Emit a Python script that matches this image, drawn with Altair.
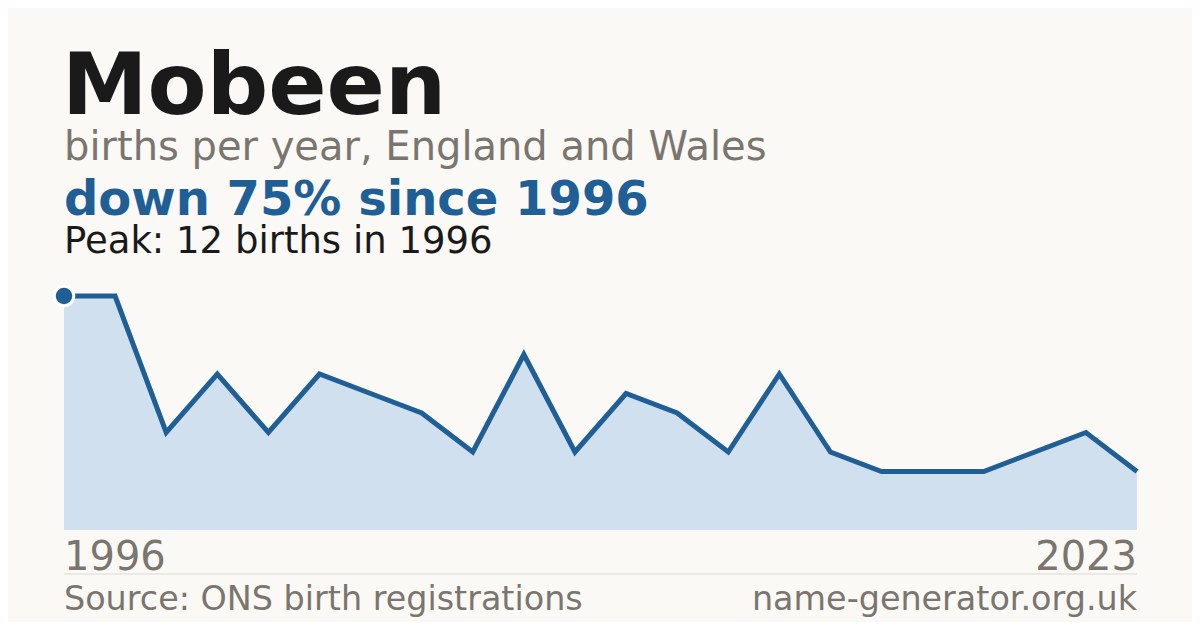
import altair as alt
import pandas as pd

years = ["1996", "1997", "1998", "1999", "2000", "2001", "2002", "2003", "2005", "2006", "2007",
         "2008", "2010", "2011", "2012", "2014", "2015", "2017", "2018", "2020", "2022", "2023"]
births = [12, 12, 5, 8, 5, 8, 7, 6, 4, 9, 4, 7, 6, 4, 8, 4, 3, 3, 3, 4, 5, 3]

name = "Mobeen"
subtitle = "births per year, England and Wales"
headline = "down 75% since 1996"
peak_text = "Peak: 12 births in 1996"
source = "Source: ONS birth registrations"
site = "name-generator.org.uk"

df = pd.DataFrame({"year": years, "births": births})
peak_df = pd.DataFrame({"year": [years[0]], "births": [births[0]]})
ends_df = pd.DataFrame({"year": [years[0], years[-1]], "label": [years[0], years[-1]]})

W, H = 1073, 234
BLUE = "#1f5f96"
GRAY = "#7a756e"
FONT = "DejaVu Sans"

x = alt.X("year:O", scale=alt.Scale(type="point", padding=0, domain=years), axis=None)
y = alt.Y("births:Q", scale=alt.Scale(domain=[0, 12], nice=False, zero=True), axis=None)

base = alt.Chart(df)
area = base.mark_area(color="#d0e0ef", opacity=1).encode(x=x, y=y)
line = base.mark_line(color=BLUE, strokeWidth=5).encode(x=x, y=y)
dot = alt.Chart(peak_df).mark_circle(color=BLUE, size=380, stroke="white",
                                     strokeWidth=3, opacity=1).encode(x=x, y=y)

left_lbl = alt.Chart(ends_df.iloc[[0]]).mark_text(
    align="left", baseline="alphabetic", fontSize=40, font=FONT, color=GRAY
).encode(x=x, y=alt.value(274), text="label:N")
right_lbl = alt.Chart(ends_df.iloc[[1]]).mark_text(
    align="right", baseline="alphabetic", fontSize=40, font=FONT, color=GRAY
).encode(x=x, y=alt.value(274), text="label:N")


def txt(t, xv, yv, size, color, weight="normal", align="left"):
    return alt.Chart(pd.DataFrame({"t": [t]})).mark_text(
        align=align, baseline="alphabetic", fontSize=size, font=FONT, color=color,
        fontWeight=weight
    ).encode(x=alt.value(xv), y=alt.value(yv), text="t:N")


rule = alt.Chart(pd.DataFrame({"a": [0]})).mark_rule(color="#dcdad4", strokeWidth=1).encode(
    x=alt.value(0), x2=alt.value(W), y=alt.value(278))

chart = alt.layer(
    area, line, dot, left_lbl, right_lbl, rule,
    txt(name, -2, -182, 86, "#1a1a1a", "bold"),
    txt(subtitle, 0, -136, 40, GRAY),
    txt(headline, 0, -81, 48, BLUE, "bold"),
    txt(peak_text, 0, -43, 37, "#1a1a1a"),
    txt(source, 0, 314, 33.4, GRAY),
    txt(site, W, 314, 33.4, GRAY, align="right"),
).properties(
    width=W, height=H,
    autosize=alt.AutoSizeParams(type="none"),
    padding={"left": 56, "top": 288, "right": 55, "bottom": 92},
    background="#faf9f5",
).configure_view(stroke=None)

chart.save("out.html", embed_options={"renderer": "svg", "actions": False})
